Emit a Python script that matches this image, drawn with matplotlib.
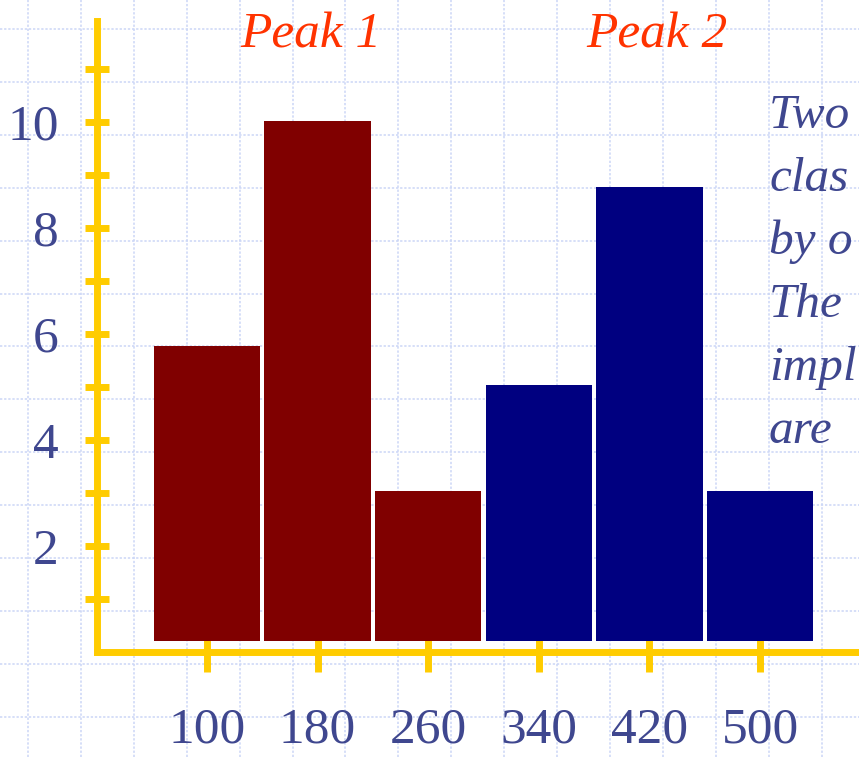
import matplotlib
matplotlib.use("Agg")
import matplotlib.pyplot as plt
import numpy as np

# ---- data ----
bin_centers = [100, 180, 260, 340, 420, 500]
peak1_values = [5.77, 10.02, 3.04]
peak2_values = [5.04, 8.77, 3.04]
bar_base = 0.2
bar_width = 77
y_major = [2, 4, 6, 8, 10]
y_minor = [1, 3, 5, 7, 9, 11]
peak_labels = ["Peak 1", "Peak 2"]
side_text = ["Two", "clas", "by o", "The", "impl", "are"]

SERIF = ["Liberation Serif", "DejaVu Serif"]
LABEL_C = "#3f478f"
AXIS_C = "#ffcc00"
RED = "#800000"
BLUE = "#000080"
PEAK_C = "#ff3300"
GRID_C = "#cbd6f6"

W, H = 859, 757
fig = plt.figure(figsize=(W / 100, H / 100), dpi=100)

# background grid (slide paper)
bg = fig.add_axes([0, 0, 1, 1])
bg.set_xlim(0, W)
bg.set_ylim(H, 0)
bg.axis("off")
for gx in np.arange(28, W, 52.9):
    bg.axvline(gx, color=GRID_C, lw=1.1, ls=(0, (1.5, 1.2)), zorder=0)
for gy in np.arange(29, H, 52.9):
    bg.axhline(gy, color=GRID_C, lw=1.1, ls=(0, (1.5, 1.2)), zorder=0)

# main axes mapped onto the figure
ax = fig.add_axes([0, 0, 1, 1])
ax.patch.set_visible(False)
ax.set_xlim(-49.7, 571.6)
ax.set_ylim(-1.98, 12.30)
ax.set_axisbelow(True)

x1 = bin_centers[:3]
x2 = bin_centers[3:]
ax.bar(x1, [v - bar_base for v in peak1_values], bottom=bar_base, width=bar_width,
       color=RED, zorder=3)
ax.bar(x2, [v - bar_base for v in peak2_values], bottom=bar_base, width=bar_width,
       color=BLUE, zorder=3)

for s in ["top", "right"]:
    ax.spines[s].set_visible(False)
ax.spines["left"].set_position(("data", 20.5))
ax.spines["bottom"].set_position(("data", 0))
ax.spines["left"].set_bounds(0, 11.9)
ax.spines["bottom"].set_bounds(20.5, 571.6)
for s in ["left", "bottom"]:
    ax.spines[s].set_color(AXIS_C)
    ax.spines[s].set_linewidth(5)

ax.set_xticks(bin_centers)
ax.set_xticklabels([str(v) for v in bin_centers])
ax.set_yticks(y_major)
ax.set_yticklabels([str(v) for v in y_major])
ax.set_yticks(y_minor, minor=True)

ax.tick_params(axis="y", which="both", direction="inout", length=17.3, width=5,
               color=AXIS_C, pad=19, labelsize=37, labelcolor=LABEL_C)
ax.tick_params(axis="x", which="both", direction="inout", length=28.8, width=5,
               color=AXIS_C, pad=25, labelsize=37, labelcolor=LABEL_C)
for lab in ax.get_xticklabels() + ax.get_yticklabels():
    lab.set_family(SERIF)

# peak labels
bg.text(311, 48, peak_labels[0], color=PEAK_C, fontsize=37, style="italic",
        family=SERIF, ha="center", va="baseline")
bg.text(657, 48, peak_labels[1], color=PEAK_C, fontsize=37, style="italic",
        family=SERIF, ha="center", va="baseline")

# side text (runs to the slide edge)
for i, line in enumerate(side_text):
    bg.text(769, 128 + 63 * i, line, color=LABEL_C, fontsize=35.5, style="italic",
            family=SERIF, ha="left", va="baseline")

fig.savefig("out.png", dpi=100)
